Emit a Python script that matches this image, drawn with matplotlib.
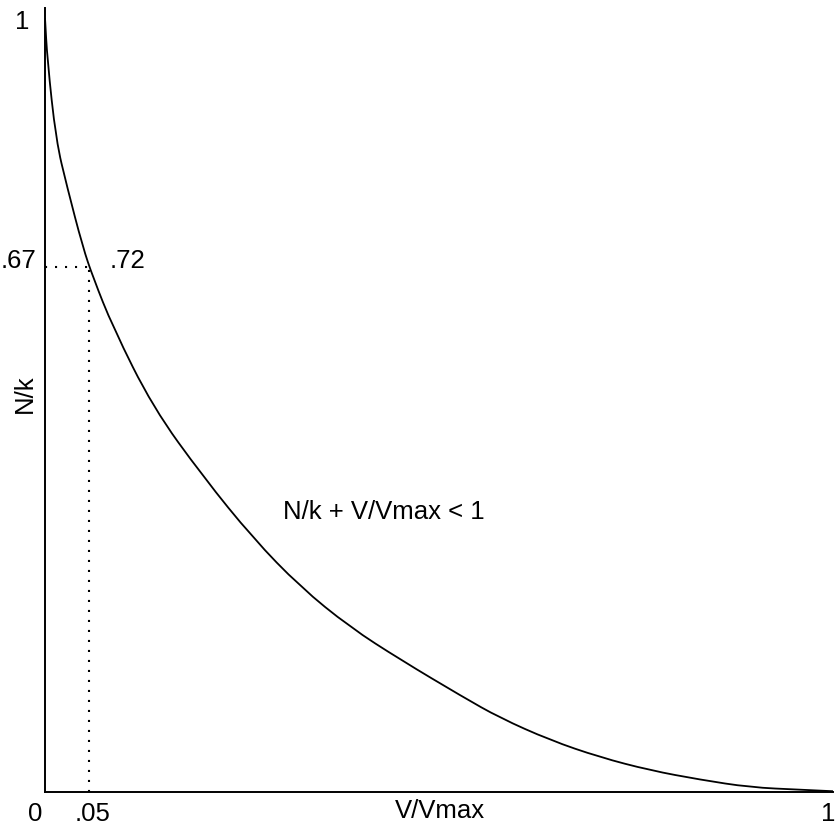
import matplotlib
matplotlib.use('Agg')
import matplotlib.pyplot as plt
from matplotlib.path import Path
from matplotlib.patches import PathPatch

plt.rcParams['font.family'] = ['Liberation Sans', 'DejaVu Sans']

# curve: V/Vmax vs N/k
v = [0.0, 0.003, 0.014, 0.028, 0.048, 0.061, 0.086, 0.137, 0.201, 0.264,
     0.324, 0.387, 0.451, 0.530, 0.577, 0.641, 0.704, 0.768, 0.831, 0.895,
     0.958, 1.0]
n = [1.0, 0.946, 0.842, 0.782, 0.704, 0.665, 0.601, 0.497, 0.407, 0.328,
     0.265, 0.213, 0.171, 0.123, 0.096, 0.067, 0.045, 0.028, 0.016, 0.006,
     0.003, 0.001]

# marked point on the curve
mark_v = 0.056
mark_n = 0.678

fig = plt.figure(figsize=(8.38, 8.34), dpi=100)
ax = fig.add_axes([45 / 838, 42 / 834, 788 / 838, 784 / 834])

# smooth the read points with quadratic bezier pieces (points act as controls)
pts = list(zip(v, n))
verts = [pts[0]]
codes = [Path.MOVETO]
mid = ((pts[0][0] + pts[1][0]) / 2, (pts[0][1] + pts[1][1]) / 2)
verts.append(mid)
codes.append(Path.LINETO)
for i in range(1, len(pts) - 1):
    mid = ((pts[i][0] + pts[i + 1][0]) / 2, (pts[i][1] + pts[i + 1][1]) / 2)
    verts += [pts[i], mid]
    codes += [Path.CURVE3, Path.CURVE3]
verts.append(pts[-1])
codes.append(Path.LINETO)
ax.add_patch(PathPatch(Path(verts, codes), facecolor='none', edgecolor='black', lw=1.3))

ax.plot([0, mark_v], [mark_n, mark_n], color='black', lw=1.5, linestyle=(0, (1, 3.8)))
ax.plot([mark_v, mark_v], [0, mark_n], color='black', lw=1.5, linestyle=(0, (1, 3.8)))

ax.set_xlim(0, 1)
ax.set_ylim(0, 1.013)
for s in ['top', 'right']:
    ax.spines[s].set_visible(False)
for s in ['left', 'bottom']:
    ax.spines[s].set_linewidth(1.4)
    ax.spines[s].set_color('black')
ax.set_xticks([])
ax.set_yticks([])

fs = 18.5
kw = dict(fontsize=fs, clip_on=False)
ax.text(-0.029, 0.995, '1', ha='center', va='center', **kw)
ax.text(-0.011, 0.686, '.67', ha='right', va='center', **kw)
ax.text(0.082, 0.686, '.72', ha='left', va='center', **kw)
ax.text(-0.013, -0.028, '0', ha='center', va='center', **kw)
ax.text(0.060, -0.028, '.05', ha='center', va='center', **kw)
ax.text(0.501, -0.024, 'V/Vmax', ha='center', va='center', **kw)
ax.text(0.994, -0.028, '1', ha='center', va='center', **kw)
ax.text(-0.026, 0.515, 'N/k', ha='center', va='center', rotation=90, **kw)
ax.text(0.302, 0.362, 'N/k + V/Vmax < 1', ha='left', va='center', **kw)

fig.savefig('out.png', dpi=100)
